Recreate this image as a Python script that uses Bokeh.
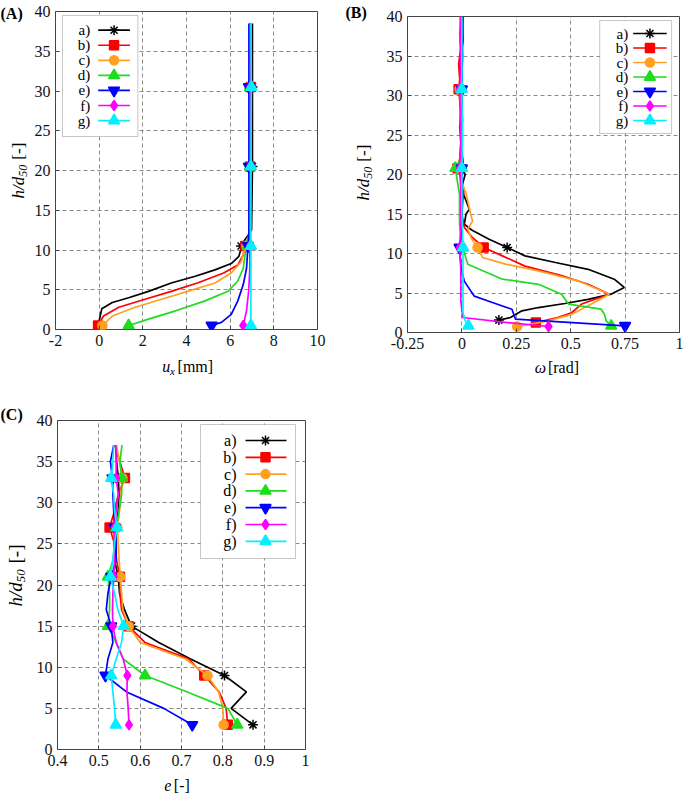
import math
from bokeh.plotting import figure
from bokeh.models import Range1d, FixedTicker, Label, BoxAnnotation, NumeralTickFormatter
from bokeh.layouts import row, column
from bokeh.embed import file_html
from bokeh.resources import INLINE

# ---------------- shared ----------------
SERIES = ["a)", "b)", "c)", "d)", "e)", "f)", "g)"]
COLORS = ["#000000", "#ff0000", "#ffa020", "#1edc1e", "#0000ff", "#ff00ff", "#00f0ff"]
MARKERS = ["asterisk", "square", "circle", "triangle", "inverted_triangle", "diamond", "triangle"]
MSIZES = [10, 9, 9, 11, 11, 10, 11]
Y_TICKS = [0, 5, 10, 15, 20, 25, 30, 35, 40]
Y_TICK_FORMAT = "0"

# ---------------- panel A : u_x [mm] ----------------
A_X_TICKS = [-2, 0, 2, 4, 6, 8, 10]
A_X_TICK_FORMAT = "0"
A_MARK_H = [0.5, 10.5, 20.5, 30.5]
A_H_a = [0.5, 1.1, 2.6, 3.4, 4.0, 4.8, 5.85, 6.7, 7.5, 8.3, 9.2, 10.2, 10.5, 11.4, 12.5, 20.5, 30.5, 38.5]
A_U_a = [-0.02, 0.0, 0.12, 0.6, 1.35, 2.26, 3.3, 4.4, 5.3, 6.05, 6.4, 6.5, 6.5, 6.7, 6.98, 7.02, 7.02, 7.02]
A_H_b = [0.5, 1.7, 2.8, 3.8, 4.8, 5.85, 7.1, 8.1, 9.4, 10.2, 10.5, 12.0, 20.5, 30.5, 38.5]
A_U_b = [-0.05, 0.2, 0.9, 2.1, 3.3, 4.5, 5.7, 6.35, 6.6, 6.65, 6.7, 6.88, 6.92, 6.95, 6.92]
A_H_c = [0.5, 1.7, 2.8, 3.8, 4.8, 5.85, 7.1, 8.5, 10.0, 10.5, 11.5, 12.5, 20.5, 30.5, 38.5]
A_U_c = [0.15, 0.6, 1.65, 2.85, 4.05, 5.3, 6.05, 6.5, 6.65, 6.75, 6.85, 6.88, 6.9, 6.9, 6.9]
A_H_d = [0.5, 1.3, 2.35, 3.6, 4.8, 6.1, 7.7, 9.4, 10.5, 13.0, 20.5, 30.5, 38.5]
A_U_d = [1.35, 2.26, 3.5, 4.85, 5.9, 6.35, 6.6, 6.68, 6.8, 6.88, 6.9, 6.9, 6.9]
A_H_e = [0.5, 0.9, 1.9, 3.6, 5.65, 7.7, 9.8, 10.5, 12.0, 20.5, 30.5, 38.5]
A_U_e = [5.15, 5.6, 6.05, 6.35, 6.6, 6.75, 6.8, 6.82, 6.86, 6.86, 6.86, 6.86]
A_H_f = [0.5, 2.4, 4.9, 7.7, 10.5, 20.5, 30.5, 38.5]
A_U_f = [6.6, 6.75, 6.85, 6.9, 6.9, 6.92, 6.92, 6.92]
A_H_g = [0.5, 10.5, 20.5, 30.5, 38.5]
A_U_g = [6.95, 6.95, 6.95, 6.97, 6.95]

# ---------------- panel B : omega [rad] ----------------
B_X_TICKS = [-0.25, 0, 0.25, 0.5, 0.75, 1]
B_X_TICK_FORMAT = "0.[00]"
B_H_a = [1.57, 1.9, 2.74, 3.16, 3.67, 4.2, 4.85, 5.7, 6.75, 8.0, 8.86, 9.7, 10.76, 11.8, 12.9, 13.7, 15.0, 15.6, 16.7,
         18.0, 19.0, 20.0, 20.8, 21.5, 23.0, 25.0, 27.0, 29.0, 30.8, 33.0, 35.0, 37.0, 40.0]
B_W_a = [0.17, 0.223, 0.276, 0.352, 0.473, 0.58, 0.685, 0.746, 0.70, 0.58, 0.43, 0.29, 0.208, 0.125, 0.049, 0.011, 0.019,
         0.034, 0.019, 0.0, 0.005, 0.015, 0.0, 0.005, 0.0, 0.0, -0.005, 0.0, -0.005, -0.01, -0.005, 0.005, 0.0]
B_M_a = [1.57, 10.76, 20.8, 30.8]
B_H_b = [1.27, 1.9, 2.5, 3.6, 4.85, 6.1, 7.2, 8.4, 9.7, 10.76, 12.0, 13.3, 15.0, 17.0, 18.0, 19.5, 20.8, 22.0, 24.0,
         26.0, 28.0, 30.8, 32.0, 34.0, 36.0, 38.0, 40.0]
B_W_b = [0.34, 0.44, 0.504, 0.55, 0.678, 0.58, 0.458, 0.29, 0.186, 0.10, 0.049, 0.011, 0.0, 0.005, 0.01, -0.005, -0.02,
         -0.01, -0.005, -0.01, -0.005, -0.015, -0.01, -0.015, -0.005, -0.01, -0.005]
B_M_b = [1.27, 10.76, 20.8, 30.8]
B_H_c = [0.76, 1.48, 2.3, 3.6, 4.85, 6.54, 7.8, 8.65, 9.5, 10.76, 12.0, 13.1, 14.1, 15.0, 17.5, 19.0, 20.8, 23.0, 25.0,
         27.0, 29.0, 30.8, 33.0, 35.0, 37.0, 40.0]
B_W_c = [0.254, 0.398, 0.504, 0.595, 0.678, 0.534, 0.352, 0.2, 0.095, 0.072, 0.042, 0.027, 0.049, 0.04, 0.02, 0.0, -0.01,
         0.0, -0.005, 0.005, -0.005, -0.01, 0.0, 0.005, -0.005, -0.01]
B_M_c = [0.76, 10.76, 20.8, 30.8]
B_H_d = [0.84, 1.48, 2.3, 2.95, 3.6, 4.85, 6.1, 6.75, 8.65, 10.76, 13.7, 17.5, 19.0, 20.8, 21.8, 23.0, 26.0, 29.0, 30.8,
         33.0, 36.0, 38.0, 40.0]
B_W_d = [0.686, 0.663, 0.655, 0.64, 0.49, 0.458, 0.352, 0.186, 0.027, 0.004, -0.011, -0.011, -0.02, -0.03, -0.01, 0.0,
         -0.005, 0.0, -0.005, 0.0, -0.005, 0.0, 0.005]
B_M_d = [0.84, 10.76, 20.8, 30.8]
B_H_e = [0.85, 1.7, 2.95, 3.8, 4.6, 6.5, 8.2, 10.76, 12.0, 14.0, 17.0, 20.8, 25.0, 30.8, 35.0, 40.0]
B_W_e = [0.75, 0.246, 0.23, 0.14, 0.057, 0.011, -0.004, -0.011, -0.005, 0.0, 0.0, 0.0, 0.002, 0.0, 0.002, 0.005]
B_M_e = [0.85, 10.76, 20.8, 30.8]
B_H_f = [0.76, 1.27, 1.9, 4.0, 8.0, 10.76, 14.0, 18.0, 20.8, 24.0, 28.0, 30.8, 34.0, 37.0, 40.0]
B_W_f = [0.398, 0.2, 0.004, -0.005, -0.005, -0.01, -0.005, -0.005, -0.01, -0.005, -0.008, -0.01, -0.005, -0.008, -0.005]
B_M_f = [0.76, 10.76, 20.8, 30.8]
B_H_g = [0.85, 1.5, 2.5, 6.0, 10.76, 15.0, 20.8, 25.0, 30.8, 35.0, 40.0]
B_W_g = [0.03, 0.015, 0.005, 0.005, 0.005, 0.0, 0.0, 0.002, 0.0, 0.0, 0.0]
B_M_g = [0.85, 10.76, 20.8, 30.8]

# ---------------- panel C : e [-] ----------------
C_X_TICKS = [0.4, 0.5, 0.6, 0.7, 0.8, 0.9, 1.0]
C_X_TICK_FORMAT = "0.[0]"
C_H = [3, 5, 7, 9, 11, 13, 15, 17, 19, 21, 23, 25, 27, 29, 31, 33, 35, 37]
C_MARK_H = [3, 9, 15, 21, 27, 33]
C_E_a = [0.873, 0.82, 0.857, 0.804, 0.722, 0.645, 0.579, 0.562, 0.55, 0.547, 0.538, 0.541, 0.542, 0.547, 0.549, 0.547, 0.543, 0.541]
C_E_b = [0.812, 0.808, 0.791, 0.755, 0.718, 0.612, 0.572, 0.555, 0.551, 0.551, 0.543, 0.538, 0.526, 0.538, 0.547, 0.563, 0.551, 0.538]
C_E_c = [0.802, 0.8, 0.79, 0.763, 0.71, 0.6, 0.572, 0.558, 0.555, 0.552, 0.549, 0.547, 0.545, 0.55, 0.553, 0.557, 0.55, 0.543]
C_E_d = [0.835, 0.812, 0.714, 0.612, 0.559, 0.542, 0.522, 0.526, 0.526, 0.522, 0.534, 0.538, 0.542, 0.549, 0.555, 0.556, 0.551, 0.556]
C_E_e = [0.726, 0.657, 0.567, 0.516, 0.522, 0.534, 0.53, 0.518, 0.522, 0.53, 0.542, 0.542, 0.538, 0.536, 0.534, 0.533, 0.528, 0.536]
C_E_f = [0.573, 0.571, 0.568, 0.569, 0.559, 0.542, 0.534, 0.533, 0.534, 0.536, 0.538, 0.536, 0.538, 0.542, 0.547, 0.542, 0.542, 0.541]
C_E_g = [0.541, 0.538, 0.534, 0.53, 0.542, 0.555, 0.56, 0.546, 0.538, 0.528, 0.534, 0.538, 0.544, 0.538, 0.536, 0.53, 0.534, 0.536]

FONT = "Liberation Serif"


class Geo:
    """Maps reference-picture pixels to data units of one panel (used for in-frame legend)."""
    def __init__(self, L, R, T, B, xr, yr):
        self.L, self.R, self.T, self.B, self.xr, self.yr = L, R, T, B, xr, yr

    def dx(self, px):
        return self.xr[0] + (px - self.L) / (self.R - self.L) * (self.xr[1] - self.xr[0])

    def dy(self, py):
        return self.yr[0] + (self.B - py) / (self.B - self.T) * (self.yr[1] - self.yr[0])


class StripGeo:
    """Text-only strip: page pixel -> local coordinates."""
    def __init__(self, x0, y0, h):
        self.x0, self.y0, self.h = x0, y0, h

    def dx(self, px):
        return px - self.x0

    def dy(self, py):
        return self.h - (py - self.y0)


def make_fig(width, height, mbl, mbr, mbt, mbb, xr, xticks, xfmt):
    p = figure(width=width, height=height, x_range=Range1d(*xr), y_range=Range1d(0, 40),
               output_backend="svg", toolbar_location=None,
               min_border_left=mbl, min_border_right=mbr, min_border_top=mbt, min_border_bottom=mbb)
    p.xaxis.ticker = FixedTicker(ticks=xticks)
    p.yaxis.ticker = FixedTicker(ticks=Y_TICKS)
    p.xaxis.formatter = NumeralTickFormatter(format=xfmt)
    p.yaxis.formatter = NumeralTickFormatter(format=Y_TICK_FORMAT)
    p.axis.axis_line_color = None
    p.axis.major_tick_in = 4
    p.axis.major_tick_out = 0
    p.axis.major_tick_line_color = "#444444"
    p.axis.minor_tick_line_color = None
    p.axis.major_label_text_font = FONT
    p.axis.major_label_text_font_size = "16px"
    p.axis.major_label_text_color = "#111111"
    p.axis.major_label_standoff = 5
    p.grid.grid_line_color = "#8a8a8a"
    p.grid.grid_line_dash = "4 3"
    p.grid.grid_line_width = 1
    p.outline_line_color = "#444444"
    p.outline_line_width = 1
    p.background_fill_color = "white"
    p.border_fill_color = "white"
    return p


def make_strip(w, h):
    s = figure(width=w, height=h, x_range=Range1d(0, w), y_range=Range1d(0, h),
               output_backend="svg", toolbar_location=None, min_border=0,
               x_axis_type=None, y_axis_type=None)
    s.outline_line_color = None
    s.background_fill_color = "white"
    s.border_fill_color = "white"
    return s


def text(p, g, px, py, s, size, style="normal", align="left", baseline="middle", angle=0.0):
    p.add_layout(Label(x=g.dx(px), y=g.dy(py), text=s, text_font=FONT, text_font_size=f"{size}px",
                       text_font_style=style, text_align=align, text_baseline=baseline,
                       angle=angle, text_color="#000000"))


def y_title(p, g, xc, y0, fs, sfs):
    w1 = 1.28 * fs
    text(p, g, xc, y0, "h/d", fs, "italic", angle=math.pi / 2)
    text(p, g, xc + 0.28 * fs, y0 - w1, "50", sfs, "italic", angle=math.pi / 2)
    text(p, g, xc, y0 - w1 - 1.0 * sfs - 0.3 * fs, "[-]", fs, "normal", angle=math.pi / 2)


def legend(p, g, box, y0, dy, tx, lx0, lx1, mx, fs):
    L, T, R, B = box
    p.add_layout(BoxAnnotation(left=g.dx(L), right=g.dx(R), top=g.dy(T), bottom=g.dy(B),
                               fill_color="white", fill_alpha=1.0, line_color="#444444",
                               line_width=1, level="underlay"))
    for i, (name, c, m, s) in enumerate(zip(SERIES, COLORS, MARKERS, MSIZES)):
        py = y0 + i * dy
        yy = g.dy(py)
        text(p, g, tx, py, name, fs, align="right")
        p.line([g.dx(lx0), g.dx(lx1)], [yy, yy], line_color=c, line_width=1.7)
        p.scatter([g.dx(mx)], [yy], marker=m, size=s, fill_color=c, line_color=c, line_width=1.5)


def draw(p, xs, hs, mark_hs, idx):
    c, m, s = COLORS[idx], MARKERS[idx], MSIZES[idx]
    p.line(xs, hs, line_color=c, line_width=1.7)
    mx = [x for x, h in zip(xs, hs) if any(abs(h - mh) < 1e-9 for mh in mark_hs)]
    my = [h for h in hs if any(abs(h - mh) < 1e-9 for mh in mark_hs)]
    p.scatter(mx, my, marker=m, size=s, fill_color=c, line_color=c, line_width=1.5)


# Page layout (page pixels == reference pixels, origin top-left):
#   row 1: sA [0..31] | pA/bA [31..340] | sB [340..377] | pB/bB [377..685], y 0..402
#   row 2: sC [0..33] | pC/bC [33..340], y 402..795

# ---------------- panel A ----------------
GA = Geo(53, 317, 6, 329, (-2, 10), (0, 40))
pA = make_fig(309, 357, 22, 23, 11, 28, (-2, 10), A_X_TICKS, A_X_TICK_FORMAT)
for i, (xs, hs) in enumerate([(A_U_a, A_H_a), (A_U_b, A_H_b), (A_U_c, A_H_c), (A_U_d, A_H_d),
                              (A_U_e, A_H_e), (A_U_f, A_H_f), (A_U_g, A_H_g)]):
    draw(pA, xs, hs, A_MARK_H, i)
legend(pA, GA, (60, 10, 136, 133), 25, 15.3, 88, 96, 128, 112, 15)

sA = make_strip(31, 402)
gsA = StripGeo(0, 0, 402)
text(sA, gsA, 0, 13, "(A)", 16, "bold")
y_title(sA, gsA, 18, 198, 17, 12)

bA = make_strip(309, 45)
gbA = StripGeo(31, 357, 45)
text(bA, gbA, 157, 366, "u", 16, "italic")
text(bA, gbA, 166, 370, "x", 11, "italic")
text(bA, gbA, 175, 366, "[mm]", 16)

# ---------------- panel B ----------------
GB = Geo(407, 683, 16, 332, (-0.25, 1), (0, 40))
pB = make_fig(308, 357, 30, 6, 16, 25, (-0.25, 1), B_X_TICKS, B_X_TICK_FORMAT)
for i, (xs, hs, ms) in enumerate([(B_W_a, B_H_a, B_M_a), (B_W_b, B_H_b, B_M_b), (B_W_c, B_H_c, B_M_c),
                                  (B_W_d, B_H_d, B_M_d), (B_W_e, B_H_e, B_M_e), (B_W_f, B_H_f, B_M_f),
                                  (B_W_g, B_H_g, B_M_g)]):
    draw(pB, xs, hs, ms, i)
legend(pB, GB, (602, 20, 675, 133), 33, 14.5, 631, 636, 670, 653, 15)

sB = make_strip(37, 402)
gsB = StripGeo(340, 0, 402)
text(sB, gsB, 345, 12, "(B)", 16, "bold")
y_title(sB, gsB, 363, 200, 17, 12)

bB = make_strip(308, 45)
gbB = StripGeo(377, 357, 45)
text(bB, gbB, 521, 367, "\u03c9", 16, "italic")
text(bB, gbB, 536, 367, "[rad]", 16)

# ---------------- panel C ----------------
GC = Geo(57, 305, 420, 749, (0.4, 1), (0, 40))
pC = make_fig(307, 374, 24, 35, 18, 27, (0.4, 1.0), C_X_TICKS, C_X_TICK_FORMAT)
for i, es in enumerate([C_E_a, C_E_b, C_E_c, C_E_d, C_E_e, C_E_f, C_E_g]):
    draw(pC, es, C_H, C_MARK_H, i)
legend(pC, GC, (200, 424, 295, 558), 440, 16.8, 236, 245, 286, 265, 16)

sC = make_strip(33, 393)
gsC = StripGeo(0, 402, 393)
text(sC, gsC, 0, 414, "(C)", 16, "bold")
y_title(sC, gsC, 15, 606, 19, 13)

bC = make_strip(307, 19)
gbC = StripGeo(33, 776, 19)
text(bC, gbC, 165, 785, "e", 16, "italic")
text(bC, gbC, 177, 785, "[-]", 16)

layout = column(
    row(sA, column(pA, bA), sB, column(pB, bB)),
    row(sC, column(pC, bC)),
)
open("out.html", "w").write(file_html(layout, INLINE))
